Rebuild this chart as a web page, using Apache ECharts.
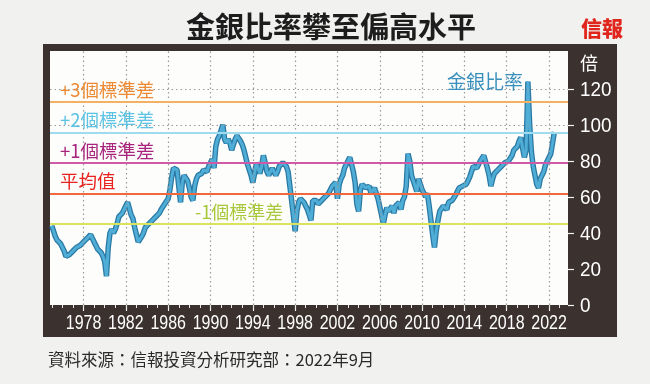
<!DOCTYPE html>
<html><head><meta charset="utf-8">
<script src="https://cdn.jsdelivr.net/npm/echarts@6/dist/echarts.min.js"></script>
<style>html,body{margin:0;padding:0;background:#f1f1ef;}#c{width:650px;height:384px;}</style>
</head><body><div id="c"></div>
<script>
// ---- data (gold/silver ratio, 6 readings per year) ----
const years = [1975,1976,1977,1978,1979,1980,1981,1982,1983,1984,1985,1986,1987,1988,1989,1990,1991,1992,1993,1994,1995,1996,1997,1998,1999,2000,2001,2002,2003,2004,2005,2006,2007,2008,2009,2010,2011,2012,2013,2014,2015,2016,2017,2018,2019,2020,2021,2022];
const ratio = [
 [44,41,38,36,35,34],[32,30,27,27,28,29],[30,31,32,33,33,34],[35,36,37,38,39,38],
 [35,33,31,30,29,27],[24,16,32,40,42,40],[42,45,49,50,51,53],[54,57,56,50,48,43],
 [39,35,34,38,40,43],[44,45,46,47,47,49],[50,51,53,54,56,57],[59,64,71,76,77,75],
 [66,57,68,72,73,69],[65,60,58,66,70,72],[72,73,75,74,74,77],[78,81,76,88,92,94],
 [97,100,92,90,92,90],[86,89,92,94,95,91],[89,86,82,78,75,72],[68,73,79,76,73,77],
 [83,79,74,72,74,76],[75,72,74,77,78,79],[78,77,74,66,58,50],[41,52,57,59,60,57],
 [55,53,50,47,58,57],[58,56,57,58,59,60],[60,62,63,66,67,68],[59,67,70,72,76,78],
 [79,82,78,74,68,56],[52,64,67,68,65,64],[66,62,63,65,62,59],[58,50,45,50,54,52],
 [53,55,51,55,56,57],[53,58,60,66,84,80],[72,73,66,63,70,67],[64,62,60,62,55,47],
 [39,32,41,47,52,51],[55,54,53,57,57,58],[58,61,63,65,66,66],[66,67,69,71,74,77],
 [76,76,78,80,81,83],[82,76,72,66,70,73],[74,75,76,77,78,79],[80,80,81,83,86,87],
 [88,91,93,87,82,86],[124,100,85,77,72,67],[65,70,72,74,78,80],[80,84,90,96]
];
const labelYears = [1978,1982,1986,1990,1994,1998,2002,2006,2010,2014,2018,2022];
const minorYears = [1975,1976,1977,1978,1979,1980,1981,1982,1983,1984,1985,1986,1987,1988,1989,1990,1991,1992,1993,1994,1995,1996,1997,1998,1999,2000,2001,2002,2003,2004,2005,2006,2007,2008,2009,2010,2011,2012,2013,2014,2015,2016,2017,2018,2019,2020,2021,2022,2023];
const yTicks = [0,20,40,60,80,100,120];
const gridLevels = [100,120];
const levelValues = [112.65, 95.7, 78.75, 61.8, 44.85];
const levelNames = ['+3個標準差','+2個標準差','+1個標準差','平均值','-1個標準差'];
const levelLineColors = ['#f4b164','#9edbee','#cf5aa6','#f2673c','#dbe35c'];
const levelTextColors = ['#ee8a33','#5cc3e4','#a8237c','#e8231f','#a8c83a'];
const seriesName = '金銀比率';
const titleText = '金銀比率攀至偏高水平';
const sourceText = '資料來源：信報投資分析研究部：2022年9月';
const unitText = '倍';

// build points
const points = [];
years.forEach((y, i) => ratio[i].forEach((v, k) => points.push([y + k / 6, v])));

const CJK = '"Noto Sans CJK TC","Noto Sans CJK SC",sans-serif';
const DIGITS = '"Liberation Sans",Arial,sans-serif';

const chart = echarts.init(document.getElementById('c'), null, {renderer: 'canvas'});
const xMin = 1974.83, xMax = 2023.79;

const option = {
  animation: false,
  backgroundColor: '#f1f1ef',
  title: [
    {text: titleText, left: 326, top: 7, textAlign: 'center',
     textStyle: {fontFamily: CJK, fontSize: 29, fontWeight: 'bold', color: '#1d1d1d'}},
    {text: sourceText, left: 43, top: 346,
     textStyle: {fontFamily: CJK, fontSize: 16.5, fontWeight: 'normal', color: '#2a2a2a'}}
  ],
  grid: {left: 50, right: 82, top: 51, bottom: 79, show: true, backgroundColor: '#fdfdfc', borderWidth: 0, containLabel: false},
  xAxis: [
    {type: 'value', min: xMin, max: xMax, position: 'bottom',
     axisLine: {show: false},
     axisTick: {show: true, customValues: labelYears, length: 6, lineStyle: {color: '#f2f2f2', width: 1.2}},
     axisLabel: {show: false},
     splitLine: {show: false}},
    {type: 'value', min: xMin, max: xMax, position: 'bottom',
     axisLine: {show: false},
     axisTick: {show: true, customValues: minorYears, length: 3, lineStyle: {color: '#e8e8e8', width: 1}},
     axisLabel: {show: false}, splitLine: {show: false}}
  ],
  yAxis: {type: 'value', min: 0, max: 141, position: 'right',
    axisLine: {show: false},
    axisTick: {show: true, customValues: yTicks, length: 6, lineStyle: {color: '#f2f2f2', width: 1.2}},
    axisLabel: {show: false},
    splitLine: {show: false}
  },
  series: [
    {type: 'line', name: 'grid', data: [], silent: true, z: 1,
     markLine: {silent: true, symbol: 'none', label: {show: false},
       lineStyle: {color: '#9a9a9a', type: [1.5, 3], width: 1.2},
       data: labelYears.map(y => ({xAxis: y})).concat(gridLevels.map(v => ({yAxis: v})))}},
    {type: 'line', name: 'levels', data: [], silent: true, z: 2,
     markLine: {silent: true, symbol: 'none', label: {show: false},
       data: levelValues.map((v, i) => ({yAxis: v, lineStyle: {color: levelLineColors[i], width: 2.2, type: 'solid'}}))}},
    {type: 'line', name: seriesName + '_edge', data: points, showSymbol: false, z: 3,
     lineStyle: {color: '#2a79a4', width: 5.5}, silent: true},
    {type: 'line', name: seriesName, data: points, showSymbol: false, z: 4,
     lineStyle: {color: '#4fadd6', width: 3}, silent: true}
  ]
};
chart.setOption(option);

// text placed via the chart's own scales
const g = [];
g.push({type: 'rect', z: -10, shape: {x: 43, y: 44, width: 574, height: 293}, style: {fill: '#3b312e'}});
// x-axis year labels (condensed look)
labelYears.forEach(yr => {
  const px = chart.convertToPixel({xAxisIndex: 0}, yr);
  g.push({type: 'text', z: 50, x: px, y: 323, scaleX: 0.8,
    style: {text: String(yr), fill: '#ffffff', font: '20px ' + DIGITS, textAlign: 'center', textVerticalAlign: 'middle'}});
});
// y-axis labels
const plotRight = chart.convertToPixel({xAxisIndex: 0}, xMax);
yTicks.forEach(v => {
  const py = chart.convertToPixel({yAxisIndex: 0}, v);
  g.push({type: 'text', z: 50, x: plotRight + 12, y: py + 1, scaleX: 0.9,
    style: {text: String(v), fill: '#ffffff', font: '21px ' + DIGITS, textAlign: 'left', textVerticalAlign: 'middle'}});
});
const labelX = [60, 60, 60, 60, 195];
const labelSize = [18.5, 18.5, 18.5, 18.5, 18];
levelValues.forEach((v, i) => {
  const py = chart.convertToPixel({yAxisIndex: 0}, v);
  g.push({type: 'text', z: 50, x: labelX[i], y: py - 3,
    style: {text: levelNames[i], fill: levelTextColors[i], font: labelSize[i] + 'px ' + CJK, textVerticalAlign: 'bottom'}});
});
let maxPt = points[0];
points.forEach(p => { if (p[1] > maxPt[1]) maxPt = p; });
const mp = chart.convertToPixel({xAxisIndex: 0, yAxisIndex: 0}, maxPt);
g.push({type: 'text', z: 50, x: mp[0] - 5, y: mp[1],
  style: {text: seriesName, fill: '#3a90bd', font: '19px ' + CJK, textAlign: 'right', textVerticalAlign: 'middle'}});
g.push({type: 'text', z: 50, x: 580, y: 63,
  style: {text: unitText, fill: '#ffffff', font: '18px ' + CJK, textAlign: 'left', textVerticalAlign: 'middle'}});
g.push({type: 'text', z: 50, x: 602, y: 28,
  style: {text: '信報', fill: '#e0261c', font: '900 21px ' + CJK, textAlign: 'center', textVerticalAlign: 'middle'}});
chart.setOption({graphic: g});
</script></body></html>
